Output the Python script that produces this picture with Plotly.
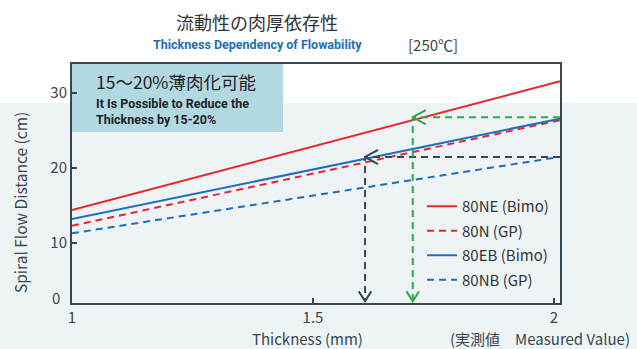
import plotly.graph_objects as go

# ---- data ----
thickness = [1.0, 2.0125]
ne_bimo = [14.4, 31.6]     # 80NE (Bimo)
n_gp = [12.3, 26.4]        # 80N (GP)
eb_bimo = [13.2, 26.6]     # 80EB (Bimo)
nb_gp = [11.3, 21.5]       # 80NB (GP)

# guide arrows: (target thickness, level)
black_guide = (1.608, 21.5)
green_guide = (1.707, 26.8)

x_range = [1.0, 2.0125]
y_range = [2.0, 33.9]
y_ticks = [10, 20, 30]

FONT = "Noto Sans CJK JP, Noto Sans, sans-serif"
COND = "Roboto, sans-serif"
AX = "#37474f"

fig = go.Figure()

def series(y, name, color, dash):
    fig.add_trace(go.Scatter(x=thickness, y=y, mode="lines", name=name, legendgroup=name,
                             line=dict(color=color, width=2, dash=dash)))

series(ne_bimo, "80NE (Bimo)", "#e8262a", "solid")
series(n_gp, "80N (GP)", "#e8262a", "7px,5px")
series(eb_bimo, "80EB (Bimo)", "#1f6fbf", "solid")
series(nb_gp, "80NB (GP)", "#1f6fbf", "7px,5px")

def guide(pt, color):
    gx, gy = pt
    fig.add_trace(go.Scatter(x=[x_range[1], gx, gx], y=[gy, gy, y_range[0] + 0.25],
                             mode="lines", showlegend=False, hoverinfo="skip",
                             line=dict(color=color, width=2, dash="7px,5px")))
    dx, dy = 0.027, 0.95
    fig.add_trace(go.Scatter(x=[gx + dx, gx, gx + dx], y=[gy + dy, gy, gy - dy],
                             mode="lines", showlegend=False, hoverinfo="skip",
                             line=dict(color=color, width=2)))
    bx, by = 0.013, 1.3
    fig.add_trace(go.Scatter(x=[gx - bx, gx, gx + bx],
                             y=[y_range[0] + 0.25 + by, y_range[0] + 0.25, y_range[0] + 0.25 + by],
                             mode="lines", showlegend=False, hoverinfo="skip",
                             line=dict(color=color, width=2)))

guide(black_guide, "#37474f")
guide(green_guide, "#2eaa4a")

def px(x):
    return (x - 72) / 488

def py(y):
    return (303 - y) / 239

shapes = [
    dict(type="rect", xref="paper", yref="paper", x0=-0.15, x1=1.16, y0=-0.2, y1=py(103),
         fillcolor="#eef3f6", line=dict(width=0), layer="below"),
    dict(type="rect", xref="paper", yref="paper", x0=0.0, x1=px(283), y0=py(132), y1=1.0,
         fillcolor="#b2d9e2", line=dict(width=0), layer="below"),
]

def ann(text, x, y, size, color, family=FONT, xanchor="center", **kw):
    return dict(text=text, xref="paper", yref="paper", x=px(x), y=py(y), xanchor=xanchor,
                yanchor="middle", showarrow=False, font=dict(size=size, color=color, family=family), **kw)

annotations = [
    ann("流動性の肉厚依存性", 257, 22, 18, "#333"),
    ann("<b>Thickness Dependency of Flowability</b>", 257, 45, 12.5, "#1a6fb8", COND),
    ann("[250℃]", 433, 45, 15, "#444"),
    ann("15～20%薄肉化可能", 94, 81, 17.5, "#222", xanchor="left"),
    ann("<b>It Is Possible to Reduce the<br>Thickness by 15-20%</b>", 94, 111, 12.5, "#222", COND,
        xanchor="left", align="left"),
    ann("Spiral Flow Distance (cm)", 20, 203, 15.5, AX, textangle=-90),
    ann("Thickness (mm)", 307, 338, 15, AX),
    ann("(実測値　Measured Value)", 540, 338, 15, AX),
    ann("0", 62, 297, 15, "#444", xanchor="right"),
]

fig.update_layout(
    width=637, height=349,
    margin=dict(l=72, r=77, t=64, b=46),
    paper_bgcolor="white", plot_bgcolor="rgba(0,0,0,0)",
    shapes=shapes, annotations=annotations,
    font=dict(family=FONT, color="#444"),
    legend=dict(x=px(422), y=py(190), xanchor="left", yanchor="top", bgcolor="rgba(0,0,0,0)",
                font=dict(size=15, color="#333"), tracegroupgap=2),
    xaxis=dict(range=x_range, tickvals=[1, 1.5, 2], ticktext=["1", "1.5", "2"],
               ticks="inside", ticklen=5, tickwidth=2, tickcolor=AX,
               showline=True, linecolor=AX, linewidth=2, mirror=True,
               showgrid=False, zeroline=False, tickfont=dict(size=15, color="#444")),
    yaxis=dict(range=y_range, tickvals=y_ticks,
               ticks="inside", ticklen=5, tickwidth=2, tickcolor=AX,
               showline=True, linecolor=AX, linewidth=2, mirror=True,
               showgrid=False, zeroline=False, tickfont=dict(size=15, color="#444")),
)

fig.write_html("out.html")
